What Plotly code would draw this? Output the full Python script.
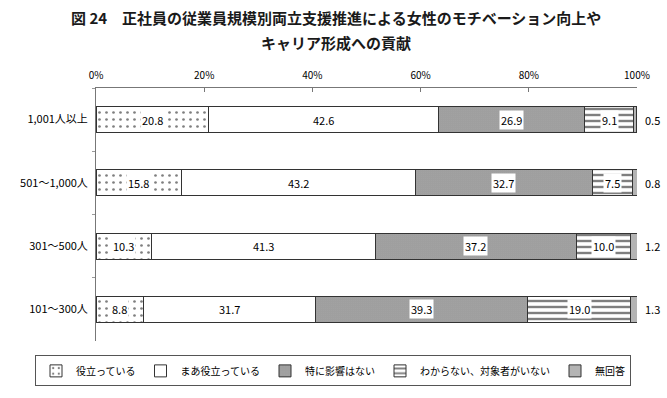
import plotly.graph_objects as go

categories = ["1,001人以上", "501～1,000人", "301～500人", "101～300人"]
series_names = ["役立っている", "まあ役立っている", "特に影響はない", "わからない、対象者がいない", "無回答"]
values = {
    "役立っている": [20.8, 15.8, 10.3, 8.8],
    "まあ役立っている": [42.6, 43.2, 41.3, 31.7],
    "特に影響はない": [26.9, 32.7, 37.2, 39.3],
    "わからない、対象者がいない": [9.1, 7.5, 10.0, 19.0],
    "無回答": [0.5, 0.8, 1.2, 1.3],
}
x_ticks = [0, 20, 40, 60, 80, 100]
x_ticktext = ["0%", "20%", "40%", "60%", "80%", "100%"]
title_lines = ["図 24　正社員の従業員規模別両立支援推進による女性のモチベーション向上や", "キャリア形成への貢献"]

FONT = "Noto Sans CJK JP"

patterns = [
    dict(shape=".", fgcolor="black", bgcolor="white", size=7, solidity=0.12, fillmode="overlay"),
    dict(shape="", fgcolor="black", bgcolor="white"),
    dict(shape=".", fgcolor="#000", bgcolor="white", size=2, solidity=0.75, fillmode="overlay"),
    dict(shape="-", fgcolor="black", bgcolor="white", size=6, solidity=0.4, fillmode="overlay"),
    dict(shape="", fgcolor="black", bgcolor="#b4b4b4"),
]
colors = ["white", "white", "white", "white", "#b4b4b4"]

fig = go.Figure()
for i, name in enumerate(series_names):
    fig.add_trace(go.Bar(
        y=categories, x=values[name], name=name, orientation="h",
        marker=dict(color=colors[i], pattern=patterns[i], line=dict(color="#333", width=1)),
        hoverinfo="x+name",
    ))

annotations = []
for r, cat in enumerate(categories):
    cum = 0.0
    for i, name in enumerate(series_names):
        v = values[name][r]
        if i < 4:
            annotations.append(dict(
                x=cum + v / 2, y=cat, xref="x", yref="y", text=f"{v:.1f}",
                showarrow=False, bgcolor="white", borderpad=1,
                font=dict(family=FONT, size=11, color="black"),
            ))
        else:
            annotations.append(dict(
                x=100, y=cat, xref="x", yref="y", text=f"{v:.1f}",
                showarrow=False, xanchor="left", xshift=6,
                font=dict(family=FONT, size=11, color="black"),
            ))
        cum += v

# title lines
for line, shift in zip(title_lines, [71, 46]):
    annotations.append(dict(
        x=(336 - 96) / 541, y=1, xref="paper", yref="paper", yshift=shift,
        text="<b>" + line + "</b>",
        showarrow=False, xanchor="center", yanchor="middle",
        font=dict(family=FONT, size=15, color="#1a1a1a"),
    ))

fig.update_layout(
    barmode="stack",
    bargap=0.59,
    width=667, height=398,
    margin=dict(l=96, r=30, t=88, b=46),
    paper_bgcolor="white", plot_bgcolor="white",
    font=dict(family=FONT, size=11, color="black"),
    xaxis=dict(
        side="top", range=[0, 100], tickvals=x_ticks, ticktext=x_ticktext,
        showline=True, linecolor="#777", linewidth=1, ticks="inside", ticklen=4,
        tickcolor="#777", showgrid=False, zeroline=False, fixedrange=True,
        tickfont=dict(family=FONT, size=10), ticklabelstandoff=4,
    ),
    yaxis=dict(
        autorange="reversed", showline=True, linecolor="#777", linewidth=1,
        ticks="outside", ticklen=3, tickcolor="#999", tickson="boundaries",
        showgrid=False, tickfont=dict(family=FONT, size=11), ticksuffix="  ",
    ),
    legend=dict(
        orientation="h", xref="paper", x=(35 - 96) / 541, xanchor="left",
        yref="paper", y=(352 - 367) / 264, yanchor="top",
        bordercolor="#555", borderwidth=1, bgcolor="white",
        font=dict(family=FONT, size=10), traceorder="normal",
        itemwidth=30,
    ),
    annotations=annotations,
    showlegend=True,
)

fig.write_html("out.html")
